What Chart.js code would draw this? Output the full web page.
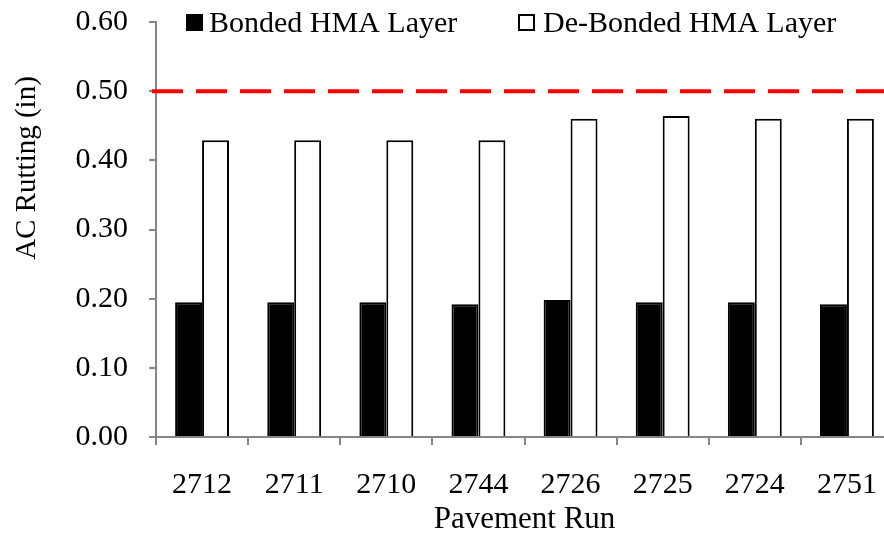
<!DOCTYPE html>
<html>
<head>
<meta charset="utf-8">
<script src="https://cdn.jsdelivr.net/npm/chart.js@4"></script>
<style>
  html, body { margin: 0; padding: 0; background: #fff; overflow: hidden; }
  #wrap { width: 900px; height: 535px; }
</style>
</head>
<body>
<div id="wrap"><canvas id="chart" width="900" height="535"></canvas></div>
<script>
// Chart values
const runs = ['2712', '2711', '2710', '2744', '2726', '2725', '2724', '2751'];
const bondedRutting = [0.195, 0.195, 0.195, 0.192, 0.198, 0.195, 0.195, 0.192];
const deBondedRutting = [0.429, 0.429, 0.429, 0.429, 0.460, 0.464, 0.460, 0.460];
const rutLimit = 0.50;
const yTicks = [0, 0.1, 0.2, 0.3, 0.4, 0.5, 0.6];

const FONT = "'Liberation Serif', 'Times New Roman', serif";
const AXIS_GRAY = '#868686';

// Red dashed limit line, legend and axis titles
const extrasPlugin = {
    id: 'extras',
    afterDatasetsDraw(chart) {
        const ctx = chart.ctx;
        const y = chart.scales.y.getPixelForValue(rutLimit);
        ctx.save();
        ctx.strokeStyle = '#ff0000';
        ctx.lineWidth = 4;
        ctx.setLineDash([31, 13]);
        ctx.beginPath();
        ctx.moveTo(chart.chartArea.left - 4, y);
        ctx.lineTo(chart.width, y);
        ctx.stroke();
        ctx.restore();
    },
    afterDraw(chart) {
        const ctx = chart.ctx;
        ctx.save();
        ctx.font = '30px ' + FONT;
        ctx.fillStyle = '#000';
        ctx.textBaseline = 'alphabetic';
        ctx.textAlign = 'left';

        // legend
        ctx.fillRect(186, 14, 17, 17);
        ctx.fillText('Bonded HMA Layer', 209, 32);
        ctx.strokeStyle = '#000';
        ctx.lineWidth = 2;
        ctx.strokeRect(519, 15, 15, 15);
        ctx.fillText('De-Bonded HMA Layer', 543, 32);

        // y axis title
        ctx.font = '29px ' + FONT;
        ctx.save();
        ctx.translate(35, 168);
        ctx.rotate(-Math.PI / 2);
        ctx.textAlign = 'center';
        ctx.fillText('AC Rutting (in)', 0, 0);
        ctx.restore();

        // x axis title
        ctx.font = '31px ' + FONT;
        ctx.textAlign = 'center';
        const xs = chart.scales.x;
        ctx.fillText('Pavement Run', (xs.left + xs.right) / 2, 528);
        ctx.restore();
    }
};

const ctx = document.getElementById('chart').getContext('2d');
const chart = new Chart(ctx, {
    type: 'bar',
    data: {
        labels: runs,
        datasets: [{
            label: 'Bonded HMA Layer',
            data: bondedRutting,
            backgroundColor: '#000',
            borderColor: '#000',
            borderWidth: 2,
            barPercentage: 1,
            categoryPercentage: 0.585
        }, {
            label: 'De-Bonded HMA Layer',
            data: deBondedRutting,
            backgroundColor: '#fff',
            borderColor: '#000',
            borderWidth: 2,
            barPercentage: 1,
            categoryPercentage: 0.585
        }]
    },
    options: {
        responsive: false,
        animation: false,
        layout: { padding: { left: 0, right: 7, top: 22, bottom: 0 } },
        plugins: {
            legend: { display: false },
            tooltip: { enabled: false }
        },
        scales: {
            x: {
                afterFit(scale) {
                    scale.height = 98;
                    scale.paddingLeft = 0;
                    scale.paddingRight = 0;
                },
                border: { color: AXIS_GRAY, width: 2 },
                grid: { drawOnChartArea: false, drawTicks: true, tickLength: 8, color: AXIS_GRAY, lineWidth: 2 },
                ticks: { color: '#000', padding: 22, font: { family: FONT, size: 30 } }
            },
            y: {
                min: 0,
                max: 0.6,
                afterFit(scale) {
                    scale.width = 156;
                    scale.paddingTop = 0;
                    scale.paddingBottom = 0;
                },
                afterBuildTicks(scale) { scale.ticks = yTicks.map(v => ({ value: v })); },
                border: { color: AXIS_GRAY, width: 2 },
                grid: { drawOnChartArea: false, drawTicks: true, tickLength: 7, color: AXIS_GRAY, lineWidth: 2 },
                ticks: {
                    color: '#000',
                    padding: 21,
                    font: { family: FONT, size: 30 },
                    callback: v => v.toFixed(2)
                }
            }
        }
    },
    plugins: [extrasPlugin]
});
</script>
</body>
</html>
